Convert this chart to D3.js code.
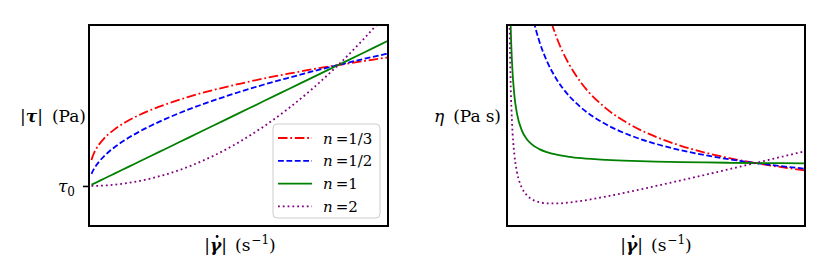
<!DOCTYPE html>
<html>
<head>
<meta charset="utf-8">
<script src="https://cdn.jsdelivr.net/npm/d3@7"></script>
<style>
  body { margin: 0; background: #fff; }
</style>
</head>
<body>
<div class="plot"></div>
<script>
// shear rate samples (arbitrary units, both panels)
var gamma = [0.01, 0.015, 0.02, 0.03, 0.04, 0.06, 0.08, 0.1, 0.13, 0.16, 0.2, 0.25,
             0.3, 0.4, 0.5, 0.6, 0.7, 0.8, 0.9, 1.0, 1.1, 1.2];

var tau0 = 0.034;

// stress |tau|
var tau_n13 = [0.249, 0.281, 0.305, 0.345, 0.376, 0.426, 0.465, 0.498, 0.541, 0.577, 0.619, 0.664,
               0.703, 0.771, 0.828, 0.877, 0.922, 0.962, 1.000, 1.034, 1.066, 1.097];
var tau_n12 = [0.134, 0.157, 0.175, 0.207, 0.234, 0.279, 0.317, 0.350, 0.395, 0.434, 0.481, 0.534,
               0.582, 0.667, 0.741, 0.809, 0.871, 0.928, 0.983, 1.034, 1.083, 1.129];
var tau_n1  = [0.044, 0.049, 0.054, 0.064, 0.074, 0.094, 0.114, 0.134, 0.164, 0.194, 0.234, 0.284,
               0.334, 0.434, 0.534, 0.634, 0.734, 0.834, 0.934, 1.034, 1.134, 1.234];
var tau_n2  = [0.034, 0.034, 0.034, 0.035, 0.036, 0.038, 0.040, 0.044, 0.051, 0.060, 0.074, 0.097,
               0.124, 0.194, 0.284, 0.394, 0.524, 0.674, 0.844, 1.034, 1.244, 1.474];

// viscosity eta
var eta_n13 = [24.94, 18.71, 15.27, 11.49, 9.40, 7.09, 5.81, 4.98, 4.158, 3.605, 3.094, 2.656,
               2.345, 1.927, 1.655, 1.463, 1.317, 1.203, 1.111, 1.034, 0.969, 0.914];
var eta_n12 = [13.4, 10.43, 8.77, 6.91, 5.85, 4.65, 3.96, 3.50, 3.035, 2.713, 2.406, 2.136,
               1.939, 1.666, 1.482, 1.348, 1.244, 1.161, 1.092, 1.034, 0.984, 0.941];
var eta_n1  = [4.4, 3.267, 2.7, 2.133, 1.85, 1.567, 1.425, 1.34, 1.262, 1.213, 1.17, 1.136,
               1.113, 1.085, 1.068, 1.057, 1.049, 1.043, 1.038, 1.034, 1.031, 1.028];
var eta_n2  = [3.41, 2.282, 1.72, 1.163, 0.89, 0.627, 0.505, 0.44, 0.392, 0.373, 0.37, 0.386,
               0.413, 0.485, 0.568, 0.657, 0.749, 0.843, 0.938, 1.034, 1.131, 1.228];

var n_labels = ["1/3", "1/2", "1", "2"];

var styles = [
  {color: "red",    dash: "9.5,2.8,1.8,2.8"},
  {color: "blue",   dash: "5.8,2.6"},
  {color: "green",  dash: null},
  {color: "purple", dash: "1.8,3"}
];

var serif = "DejaVu Serif";
var width = 830, height = 277;
var line_w = 1.8;

var svg = d3.select(".plot").append("svg")
    .attr("width", width)
    .attr("height", height)
    .style("font-family", serif);

function panel(id, left, right, ydomain, series) {
  var top = 25, bottom = 226;
  var x = d3.scaleLinear().domain([0, 1.2]).range([left, right]);
  var y = d3.scaleLinear().domain(ydomain).range([bottom, top]);

  svg.append("clipPath").attr("id", id)
    .append("rect")
      .attr("x", left).attr("y", top)
      .attr("width", right - left).attr("height", bottom - top);

  var g = svg.append("g").attr("clip-path", "url(#" + id + ")");
  var line = d3.line()
    .x(function(d) { return x(d[0]); })
    .y(function(d) { return y(d[1]); })
    .curve(d3.curveMonotoneX);

  series.forEach(function(vals, i) {
    g.append("path")
      .datum(gamma.map(function(gm, j) { return [gm, vals[j]]; }))
      .attr("d", line)
      .attr("fill", "none")
      .attr("stroke", styles[i].color)
      .attr("stroke-width", line_w)
      .attr("stroke-dasharray", styles[i].dash);
  });

  svg.append("rect")
    .attr("x", left).attr("y", top)
    .attr("width", right - left).attr("height", bottom - top)
    .attr("fill", "none")
    .attr("stroke", "#000")
    .attr("stroke-width", 2);

  return {x: x, y: y};
}

// left: stress
var L = panel("clipL", 89, 388, [-0.297, 1.365], [tau_n13, tau_n12, tau_n1, tau_n2]);
// right: viscosity
var R = panel("clipR", 507, 805, [0, 3.3], [eta_n13, eta_n12, eta_n1, eta_n2]);

function stext(x, y, size, anchor) {
  return svg.append("text")
    .attr("x", x).attr("y", y)
    .attr("text-anchor", anchor)
    .attr("fill", "#000")
    .attr("font-family", serif)
    .style("font-family", serif)
    .style("font-size", size + "px");
}

// tau0 tick
var yax = svg.append("g")
  .attr("transform", "translate(89,0)")
  .call(d3.axisLeft(L.y).tickValues([tau0]).tickSize(6).tickPadding(8).tickFormat(""));
yax.attr("font-family", serif);
yax.select(".domain").remove();
yax.selectAll(".tick line").attr("stroke", "#000").attr("stroke-width", 1.6);
var tt = yax.select(".tick text")
  .attr("fill", "#000")
  .attr("dy", "0.3em")
  .style("font-family", serif)
  .style("font-size", "17px");
tt.append("tspan").style("font-style", "italic").text("τ");
tt.append("tspan").attr("dy", 4).style("font-size", "12px").text("0");

// y labels
var ylab = stext(86, 121.5, 17, "end");
ylab.append("tspan").text("|");
ylab.append("tspan").style("font-weight", "bold").style("font-style", "italic").text("τ");
ylab.append("tspan").text("|");
ylab.append("tspan").attr("dx", 9).text("(Pa)");

var ylab2 = stext(501, 121.5, 17, "end");
ylab2.append("tspan").style("font-style", "italic").text("η");
ylab2.append("tspan").attr("dx", 9).text("(Pa");
ylab2.append("tspan").attr("dx", 5).text("s)");

// x labels
function xlabel(cx) {
  var t = stext(cx, 251, 17, "middle");
  t.append("tspan").text("|");
  t.append("tspan").style("font-weight", "bold").style("font-style", "italic").text("γ");
  t.append("tspan").text("|");
  t.append("tspan").attr("dx", 8).text("(s");
  t.append("tspan").attr("dx", 1).attr("dy", -7).style("font-size", "12px").text("−1");
  t.append("tspan").attr("dy", 7).text(")");
  // dot over gamma
  var n = t.node();
  var start = n.getStartPositionOfChar(1), end = n.getEndPositionOfChar(1);
  svg.append("circle")
    .attr("cx", (start.x + end.x) / 2 + 1.5)
    .attr("cy", 251 - 14.5)
    .attr("r", 1.4)
    .attr("fill", "#000");
}
xlabel(240);
xlabel(656);

// legend
var legend = svg.append("g").attr("transform", "translate(273,124)");
legend.append("rect")
  .attr("width", 107).attr("height", 94)
  .attr("rx", 4)
  .attr("fill", "#fff").attr("fill-opacity", 0.8)
  .attr("stroke", "#ccc");

var items = legend.selectAll(".item")
  .data(n_labels)
  .enter().append("g")
  .attr("transform", function(d, i) { return "translate(0," + (14 + i * 22.8) + ")"; });

items.append("line")
  .attr("x1", 5).attr("x2", 39)
  .attr("stroke", function(d, i) { return styles[i].color; })
  .attr("stroke-width", line_w)
  .attr("stroke-dasharray", function(d, i) { return styles[i].dash; });

var lt = items.append("text")
  .attr("x", 50).attr("y", 5.5)
  .attr("fill", "#000")
  .attr("font-family", serif)
  .style("font-family", serif)
  .style("font-size", "15px");
lt.append("tspan").style("font-style", "italic").text("n");
lt.append("tspan").attr("dx", 3).text("=");
lt.append("tspan").text(function(d) { return d; });
</script>
</body>
</html>
